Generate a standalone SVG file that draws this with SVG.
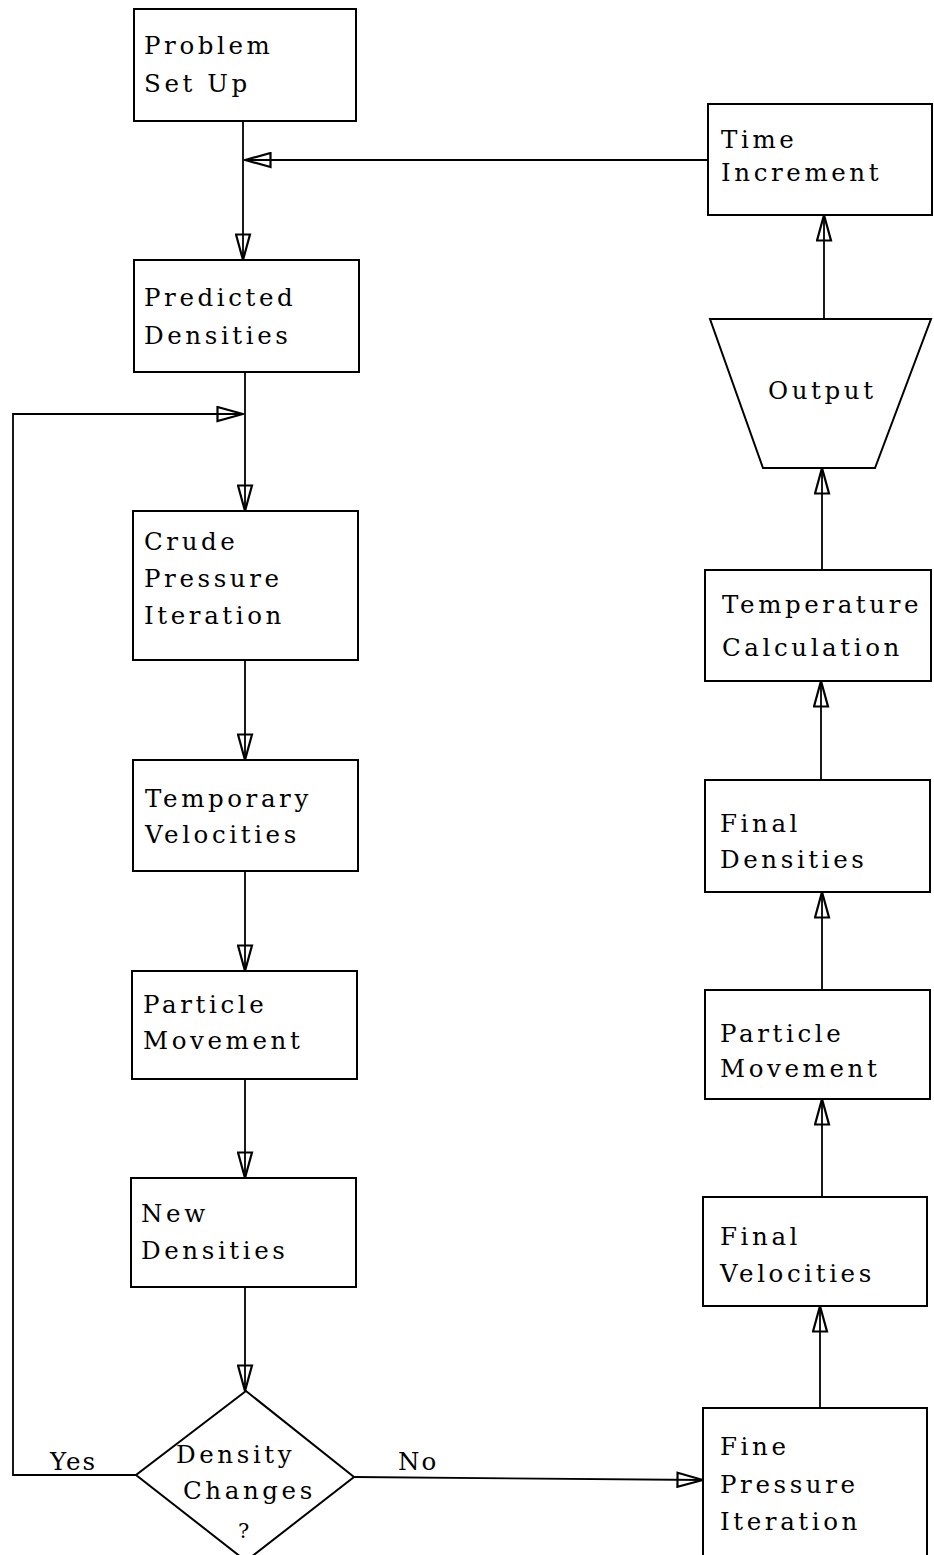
<svg xmlns="http://www.w3.org/2000/svg" width="934" height="1555" viewBox="0 0 934 1555">
<style>
.box{fill:none;stroke:#000;stroke-width:2}
.ln{fill:none;stroke:#000;stroke-width:1.8}
text{font-family:"DejaVu Serif","Liberation Serif",serif;font-size:24.5px;letter-spacing:3.6px;fill:#000}
.lbl{letter-spacing:2px}
</style>
<defs>
<marker id="ah" viewBox="0 0 28 17" refX="27" refY="8.5" markerWidth="28" markerHeight="17" markerUnits="userSpaceOnUse" orient="auto">
<path d="M1.5,1.5 L27,8.5 L1.5,15.5 Z" fill="none" stroke="#000" stroke-width="2.2"/>
</marker>
</defs>
<rect width="934" height="1555" fill="#fff"/>
<g id="connectors">
<line class="ln" x1="243" y1="121" x2="243" y2="260" marker-end="url(#ah)"/>
<line class="ln" x1="708" y1="160" x2="245" y2="160" marker-end="url(#ah)"/>
<line class="ln" x1="245" y1="372" x2="245" y2="511" marker-end="url(#ah)"/>
<polyline class="ln" points="136,1475 13,1475 13,414 243,414" marker-end="url(#ah)"/>
<line class="ln" x1="245" y1="660" x2="245" y2="760" marker-end="url(#ah)"/>
<line class="ln" x1="245" y1="871" x2="245" y2="971" marker-end="url(#ah)"/>
<line class="ln" x1="245" y1="1079" x2="245" y2="1178" marker-end="url(#ah)"/>
<line class="ln" x1="245" y1="1287" x2="245" y2="1391" marker-end="url(#ah)"/>
<line class="ln" x1="354" y1="1477" x2="703" y2="1480" marker-end="url(#ah)"/>
<line class="ln" x1="820" y1="1408" x2="820" y2="1306" marker-end="url(#ah)"/>
<line class="ln" x1="822" y1="1197" x2="822" y2="1099" marker-end="url(#ah)"/>
<line class="ln" x1="822" y1="990" x2="822" y2="892" marker-end="url(#ah)"/>
<line class="ln" x1="821" y1="780" x2="821" y2="681" marker-end="url(#ah)"/>
<line class="ln" x1="822" y1="570" x2="822" y2="468" marker-end="url(#ah)"/>
<line class="ln" x1="824" y1="319" x2="824" y2="215" marker-end="url(#ah)"/>
<text class="lbl" x="50" y="1470">Yes</text>
<text class="lbl" x="398" y="1470">No</text>
</g>
<g id="problem-setup">
<rect class="box" x="134" y="9" width="222" height="112"/>
<text x="144" y="54">Problem</text>
<text x="144" y="92">Set Up</text>
</g>
<g id="predicted-densities">
<rect class="box" x="134" y="260" width="225" height="112"/>
<text x="144" y="306">Predicted</text>
<text x="144" y="344">Densities</text>
</g>
<g id="crude-pressure">
<rect class="box" x="133" y="511" width="225" height="149"/>
<text x="144" y="550">Crude</text>
<text x="144" y="587">Pressure</text>
<text x="144" y="624">Iteration</text>
</g>
<g id="temporary-velocities">
<rect class="box" x="133" y="760" width="225" height="111"/>
<text x="145" y="807">Temporary</text>
<text x="145" y="843">Velocities</text>
</g>
<g id="particle-movement-left">
<rect class="box" x="132" y="971" width="225" height="108"/>
<text x="143" y="1013">Particle</text>
<text x="143" y="1049">Movement</text>
</g>
<g id="new-densities">
<rect class="box" x="131" y="1178" width="225" height="109"/>
<text x="141" y="1222">New</text>
<text x="141" y="1259">Densities</text>
</g>
<g id="density-changes">
<polygon class="box" points="246,1391 354,1477 246,1561 136,1475"/>
<text x="176" y="1463">Density</text>
<text x="183" y="1499">Changes</text>
<text x="238" y="1538" style="font-size:21px">?</text>
</g>
<g id="fine-pressure">
<rect class="box" x="703" y="1408" width="224" height="160"/>
<text x="720" y="1455">Fine</text>
<text x="720" y="1493">Pressure</text>
<text x="720" y="1530">Iteration</text>
</g>
<g id="final-velocities">
<rect class="box" x="703" y="1197" width="224" height="109"/>
<text x="720" y="1245">Final</text>
<text x="720" y="1282">Velocities</text>
</g>
<g id="particle-movement-right">
<rect class="box" x="705" y="990" width="225" height="109"/>
<text x="720" y="1042">Particle</text>
<text x="720" y="1077">Movement</text>
</g>
<g id="final-densities">
<rect class="box" x="705" y="780" width="225" height="112"/>
<text x="720" y="832">Final</text>
<text x="720" y="868">Densities</text>
</g>
<g id="temperature-calculation">
<rect class="box" x="705" y="570" width="226" height="111"/>
<text x="722" y="613">Temperature</text>
<text x="722" y="656">Calculation</text>
</g>
<g id="output">
<polygon class="box" points="710,319 931,319 875,468 763,468"/>
<text x="768" y="399">Output</text>
</g>
<g id="time-increment">
<rect class="box" x="708" y="104" width="224" height="111"/>
<text x="721" y="148">Time</text>
<text x="721" y="181">Increment</text>
</g>
</svg>
